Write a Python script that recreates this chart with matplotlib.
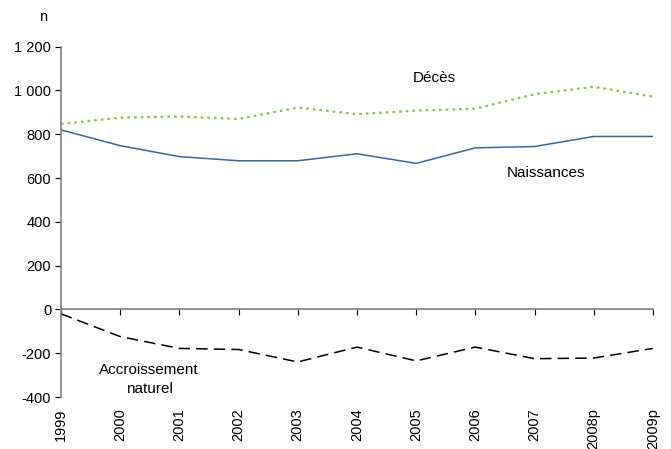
import matplotlib
matplotlib.use('Agg')
from matplotlib import pyplot as plt
import numpy as np

plt.rcParams['font.family'] = ['Liberation Sans', 'DejaVu Sans']

years = ['1999', '2000', '2001', '2002', '2003', '2004', '2005', '2006', '2007', '2008p', '2009p']
naissances = [820, 748, 698, 679, 679, 711, 667, 738, 744, 790, 790]
deces = [847, 876, 881, 870, 922, 892, 908, 917, 983, 1017, 972]
accroissement = [-20, -124, -178, -183, -240, -172, -235, -172, -225, -222, -178]
yticks = [-400, -200, 0, 200, 400, 600, 800, 1000, 1200]
ytick_labels = ['-400', '-200', '0', '200', '400', '600', '800', '1 000', '1 200']

fig = plt.figure(figsize=(6.71, 4.49), dpi=100)
ax = fig.add_axes([0.0909, 0.1158, 0.973 - 0.0909, 0.896 - 0.1158])

x = np.arange(len(years))
ax.plot(x, naissances, color='#3366bb', lw=1.1)
ax.plot(x, deces, color='#8dc63f', lw=1.6, linestyle=(0, (1.2, 1.8)))
ax.plot(x, accroissement, color='black', lw=1.1, linestyle=(0, (7.5, 4)))

ax.set_xlim(0, len(years) - 1)
ax.set_ylim(-400, 1200)

for s in ['top', 'right']:
    ax.spines[s].set_visible(False)
ax.spines['left'].set_color('#808080')
ax.spines['bottom'].set_color('#808080')
ax.spines['bottom'].set_position(('data', 0))
ax.spines['left'].set_linewidth(1.2)
ax.spines['bottom'].set_linewidth(1.2)

ax.set_yticks(yticks)
ax.set_yticklabels(ytick_labels, fontsize=10.5)
ax.set_xticks(x)
ax.set_xticklabels([])
ax.tick_params(axis='both', direction='out', length=4, color='black', width=0.8)
ax.tick_params(axis='y', pad=3)

# year labels sit at the bottom of the plot, not at the zero line
for i, yr in enumerate(years):
    ax.text(i, -452, yr, rotation=90, ha='center', va='top', fontsize=10.5,
            transform=ax.transData, clip_on=False)

fig.text(43 / 671, 1 - 17 / 449, 'n', ha='center', va='center', fontsize=10.5)
ax.text(6.3, 1055, 'Décès', ha='center', va='center', fontsize=11)
ax.text(8.19, 625, 'Naissances', ha='center', va='center', fontsize=11)
ax.text(1.49, -320, 'Accroissement\nnaturel', ha='center', va='center', fontsize=11,
        linespacing=1.4)

plt.savefig('out.png', dpi=100)
